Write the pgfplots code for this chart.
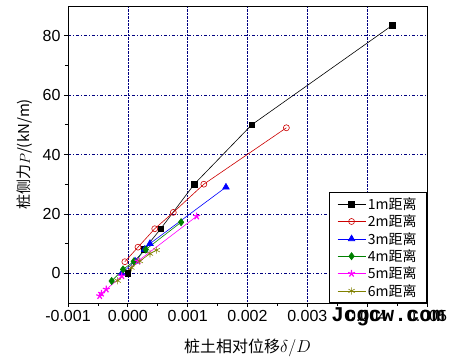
\documentclass[border=0pt]{standalone}
\usepackage{pgfplots}
\pgfplotsset{compat=1.18}
\usepackage{fontspec}
\setmainfont{Liberation Sans}
\newfontfamily\cjk{Noto Sans CJK SC}
\newfontfamily\wm{Liberation Mono}
\definecolor{gridc}{RGB}{0,0,128}
\definecolor{sred}{RGB}{204,0,0}
\definecolor{sgreen}{RGB}{0,128,0}
\definecolor{solive}{RGB}{128,128,0}
\definecolor{smag}{RGB}{255,0,255}
\begin{document}
\begin{tikzpicture}
\begin{axis}[
  scale only axis, width=359pt, height=297pt,
  xmin=-0.001, xmax=0.005, ymin=-10, ymax=90,
  xtick={-0.001,0,0.001,0.002,0.003,0.004,0.005},
  ytick={0,20,40,60,80},
  minor x tick num=1, minor y tick num=1,
  scaled x ticks=false,
  xticklabel style={/pgf/number format/.cd, fixed, fixed zerofill, precision=3, assume math mode=true},
  yticklabel style={/pgf/number format/assume math mode=true},
  tick label style={font=\fontsize{16}{18}\selectfont},
  tick align=outside, tick pos=left,
  major tick length=4pt, minor tick length=3pt,
  grid=major,
  major x grid style={gridc, densely dotted, line width=0.6pt},
  major y grid style={gridc, dash pattern=on 3pt off 2pt on 1pt off 2pt, line width=0.6pt},
  axis line style={line width=0.8pt},
  every tick/.style={black, line width=0.7pt},
  xlabel={\cjk 桩土相对位移$\delta/D$},
  ylabel={\cjk 桩侧力$P$/(kN/m)},
  xlabel style={at={(axis description cs:0.5,0)}, anchor=center, yshift=-45pt, font=\fontsize{16}{18}\selectfont},
  ylabel style={at={(axis description cs:0,0.5)}, anchor=center, yshift=43pt, font=\fontsize{15}{18}\selectfont},
  legend style={at={(1,0)}, anchor=south east, draw=black, line width=0.8pt,
    font=\cjk\fontsize{14}{15}\selectfont, row sep=0pt, inner xsep=8pt, inner ysep=3pt,
    cells={anchor=west}, /tikz/every even column/.append style={column sep=4pt}},
  legend image code/.code={\draw[mark repeat=2,mark phase=2] plot coordinates {(0pt,0pt) (14pt,0pt) (28pt,0pt)};},
]
\addplot[black, line width=0.6pt, mark=square*, mark size=2.8pt, mark options={solid}] coordinates {
(0,0) (0.00027,8) (0.00055,15) (0.00111,30) (0.00207,50) (0.00442,83.5)};
\addlegendentry{1m距离}
\addplot[sred, line width=0.6pt, mark=o, mark size=3pt, mark options={solid}] coordinates {
(-0.00005,3.9) (0.00017,8.8) (0.00045,15) (0.00076,20.5) (0.00127,30) (0.00265,49)};
\addlegendentry{2m距离}
\addplot[blue, line width=0.6pt, mark=triangle*, mark size=3.8pt] coordinates {
(-0.0001,0) (0.00012,4.1) (0.00028,8) (0.00037,10) (0.00164,29)};
\addlegendentry{3m距离}
\addplot[sgreen, line width=0.6pt, mark=diamond*, mark size=3.6pt] coordinates {
(-0.00027,-2.6) (-0.00008,1.3) (0.0001,4) (0.0003,8) (0.00089,17.2)};
\addlegendentry{4m距离}
\addplot[smag, line width=0.6pt, mark=star, mark size=3.6pt, mark options={line width=1.2pt}] coordinates {
(-0.00047,-7.6) (-0.00044,-6.8) (-0.00036,-5.4) (-0.0001,-0.9) (0.00017,4.1) (0.00115,19.2)};
\addlegendentry{5m距离}
\addplot[solive, line width=0.6pt, mark=asterisk, mark size=3.6pt] coordinates {
(-0.00017,-2.5) (0.00006,1.9) (0.0002,4.1) (0.00037,6.6) (0.00048,7.8)};
\addlegendentry{6m距离}
\coordinate (O) at (rel axis cs:0,0);
\end{axis}
\begin{axis}[
  scale only axis, width=359pt, height=297pt,
  xmin=-0.001, xmax=0.005, ymin=-10, ymax=90,
  xtick=\empty, ytick=\empty,
  minor xtick={-0.0005,0.0005,0.0015,0.0025,0.0035,0.0045},
  minor ytick={-10,10,30,50,70},
  tick align=outside, tick pos=right,
  minor tick length=3pt,
  axis line style={line width=0.8pt},
  every tick/.style={black, line width=0.7pt},
]
\end{axis}
\node[font=\wm\bfseries\fontsize{21}{21}\selectfont, inner sep=0pt] at ([xshift=320pt,yshift=-14pt]O) {Jcgcw.com};
\pgfresetboundingbox
\path ([xshift=-68pt,yshift=-55pt]O) rectangle ++(456pt,358pt);
\end{tikzpicture}
\end{document}
